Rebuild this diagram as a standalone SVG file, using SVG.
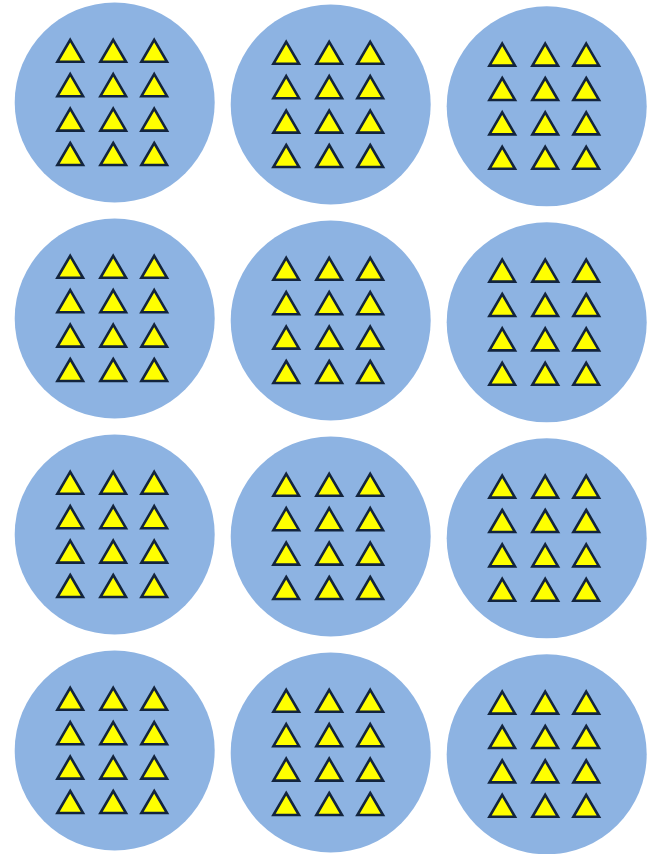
<svg xmlns="http://www.w3.org/2000/svg" xmlns:xlink="http://www.w3.org/1999/xlink" width="654" height="854" viewBox="0 0 654 854">
<style>
.disc{fill:#8DB3E2;stroke:none}
.tri{fill:#FFFF00;stroke:#13243D;stroke-width:2.6;stroke-linejoin:miter}
</style>
<defs>
<path id="t" class="tri" d="M0,0 L12.8,22 L-12.8,22 Z"/>
<g id="tris">
<use href="#t" x="-44.5" y="-62.7"/><use href="#t" x="-1.5" y="-62.7"/><use href="#t" x="39.5" y="-62.7"/>
<use href="#t" x="-44.5" y="-28.3"/><use href="#t" x="-1.5" y="-28.3"/><use href="#t" x="39.5" y="-28.3"/>
<use href="#t" x="-44.5" y="6.1"/><use href="#t" x="-1.5" y="6.1"/><use href="#t" x="39.5" y="6.1"/>
<use href="#t" x="-44.5" y="40.5"/><use href="#t" x="-1.5" y="40.5"/><use href="#t" x="39.5" y="40.5"/>
</g>
</defs>
<rect width="654" height="854" fill="#ffffff"/>
<g id="n1" transform="translate(114.7,102.5)"><circle class="disc" r="100"/><use href="#tris"/></g>
<g id="n2" transform="translate(330.7,104.5)"><circle class="disc" r="100"/><use href="#tris"/></g>
<g id="n3" transform="translate(546.7,106.3)"><circle class="disc" r="100"/><use href="#tris"/></g>
<g id="n4" transform="translate(114.7,318.5)"><circle class="disc" r="100"/><use href="#tris"/></g>
<g id="n5" transform="translate(330.7,320.5)"><circle class="disc" r="100"/><use href="#tris"/></g>
<g id="n6" transform="translate(546.7,322.3)"><circle class="disc" r="100"/><use href="#tris"/></g>
<g id="n7" transform="translate(114.7,534.5)"><circle class="disc" r="100"/><use href="#tris"/></g>
<g id="n8" transform="translate(330.7,536.5)"><circle class="disc" r="100"/><use href="#tris"/></g>
<g id="n9" transform="translate(546.7,538.3)"><circle class="disc" r="100"/><use href="#tris"/></g>
<g id="n10" transform="translate(114.7,750.5)"><circle class="disc" r="100"/><use href="#tris"/></g>
<g id="n11" transform="translate(330.7,752.5)"><circle class="disc" r="100"/><use href="#tris"/></g>
<g id="n12" transform="translate(546.7,754.3)"><circle class="disc" r="100"/><use href="#tris"/></g>
<g id="connectors"/>
</svg>
